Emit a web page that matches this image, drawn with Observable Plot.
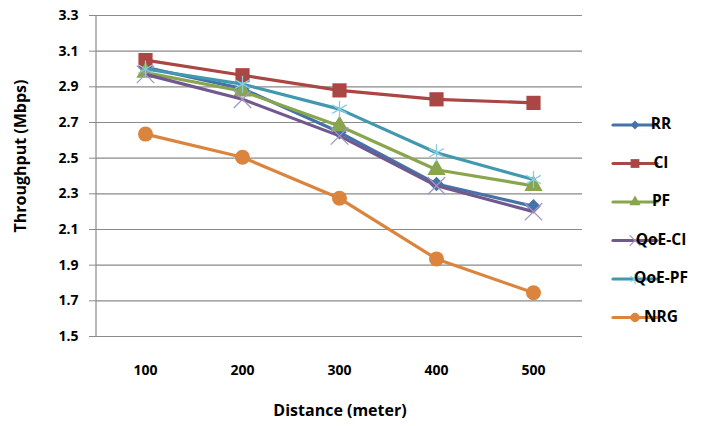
<!DOCTYPE html>
<html>
<head>
<meta charset="utf-8">
<script src="https://cdn.jsdelivr.net/npm/d3@7"></script>
<script src="https://cdn.jsdelivr.net/npm/@observablehq/plot@0.6"></script>
<style>
  html, body { margin: 0; padding: 0; background: #fff; }
  #chart svg { display: block; }
</style>
</head>
<body>
<div id="chart"></div>
<script>
const distances = [100, 200, 300, 400, 500];
const yTicks = [1.5, 1.7, 1.9, 2.1, 2.3, 2.5, 2.7, 2.9, 3.1, 3.3];
const seriesNames = ["RR", "CI", "PF", "QoE-CI", "QoE-PF", "NRG"];
const rr    = [3.01, 2.89, 2.645, 2.355, 2.23];
const ci    = [3.05, 2.965, 2.88, 2.83, 2.81];
const pf    = [2.98, 2.875, 2.68, 2.435, 2.345];
const qoeCi = [2.97, 2.83, 2.625, 2.345, 2.2];
const qoePf = [3.0, 2.915, 2.775, 2.53, 2.38];
const nrg   = [2.635, 2.505, 2.275, 1.935, 1.745];
const xTitle = "Distance (meter)";
const yTitle = "Throughput (Mbps)";

const seriesValues = [rr, ci, pf, qoeCi, qoePf, nrg];
const styles = {
  "RR":     {color: "#4572A7", symbol: d3.symbolDiamond2, r: 6.5, filled: true},
  "CI":     {color: "#AA4643", symbol: d3.symbolSquare,   r: 8,   filled: true},
  "PF":     {color: "#89A54E", symbol: d3.symbolTriangle, r: 6.8, filled: true},
  "QoE-CI": {color: "#71588F", symbol: d3.symbolTimes,    r: 8,   filled: false, mark: "#a395c4"},
  "QoE-PF": {color: "#4198AF", symbol: d3.symbolAsterisk, r: 8,   filled: false, mark: "#86cde3"},
  "NRG":    {color: "#DB843D", symbol: d3.symbolCircle,   r: 7.5, filled: true}
};

const rows = seriesNames.flatMap((name, i) =>
  distances.map((d, j) => ({series: name, distance: d, value: seriesValues[i][j]})));

const font = "'Open Sans', Lato, sans-serif";

const marks = [
  Plot.ruleY(yTicks, {stroke: "#8a8a8a", strokeWidth: 1.2}),
  Plot.axisY({ticks: yTicks, tickFormat: d3.format(".1f"), tickSize: 7, tickPadding: 11,
              fontSize: 14, fontWeight: "bold", label: null, stroke: "#8a8a8a"}),
  Plot.axisX({tickSize: 0, tickPadding: 29, fontSize: 14, fontWeight: "bold", label: null})
];
for (const name of seriesNames) {
  const s = styles[name];
  const data = rows.filter(r => r.series === name);
  marks.push(Plot.line(data, {x: "distance", y: "value", stroke: s.color, strokeWidth: 3.2}));
  if (s.filled) {
    marks.push(Plot.dot(data, {x: "distance", y: "value", symbol: s.symbol, r: s.r, fill: s.color, stroke: "none"}));
  } else {
    marks.push(Plot.dot(data, {x: "distance", y: "value", symbol: s.symbol, r: s.r, fill: "none", stroke: s.mark, strokeWidth: 1.3}));
  }
}

const chart = Plot.plot({
  width: 724,
  height: 426,
  marginLeft: 96,
  marginRight: 142,
  marginTop: 15,
  marginBottom: 90,
  style: {fontFamily: font, color: "#000", background: "#fff"},
  x: {type: "point", domain: distances, padding: 0.5},
  y: {domain: [1.5, 3.3]},
  marks
});

const svg = d3.select(chart);
// left axis line
svg.append("line").attr("x1", 96).attr("x2", 96).attr("y1", 15).attr("y2", 336)
  .attr("stroke", "#8a8a8a").attr("stroke-width", 1.2);

// axis titles
svg.append("text").text(xTitle).attr("x", 340).attr("y", 412)
  .attr("text-anchor", "middle").attr("dominant-baseline", "middle")
  .attr("font-family", font).attr("font-weight", "bold").attr("font-size", 16).attr("fill", "#000");
svg.append("text").text(yTitle)
  .attr("transform", "translate(22,156) rotate(-90)")
  .attr("text-anchor", "middle").attr("dominant-baseline", "middle")
  .attr("font-family", font).attr("font-weight", "bold").attr("font-size", 16).attr("fill", "#000");

// legend
const lg = svg.append("g");
seriesNames.forEach((name, i) => {
  const s = styles[name];
  const y = 125 + i * 38.5;
  lg.append("line").attr("x1", 613).attr("x2", 657).attr("y1", y).attr("y2", y)
    .attr("stroke", s.color).attr("stroke-width", 3.2).attr("stroke-linecap", "round");
  const size = Math.PI * (s.r * 0.62) ** 2;
  const p = lg.append("path").attr("d", d3.symbol(s.symbol, size)())
    .attr("transform", `translate(635,${y})`);
  if (s.filled) p.attr("fill", s.color);
  else p.attr("fill", "none").attr("stroke", s.mark).attr("stroke-width", 1.2);
  lg.append("text").text(name).attr("x", 661).attr("y", y)
    .attr("dominant-baseline", "middle").attr("font-family", font)
    .attr("font-weight", "bold").attr("font-size", 15.5).attr("fill", "#000");
});

document.getElementById("chart").appendChild(chart);
</script>
</body>
</html>
